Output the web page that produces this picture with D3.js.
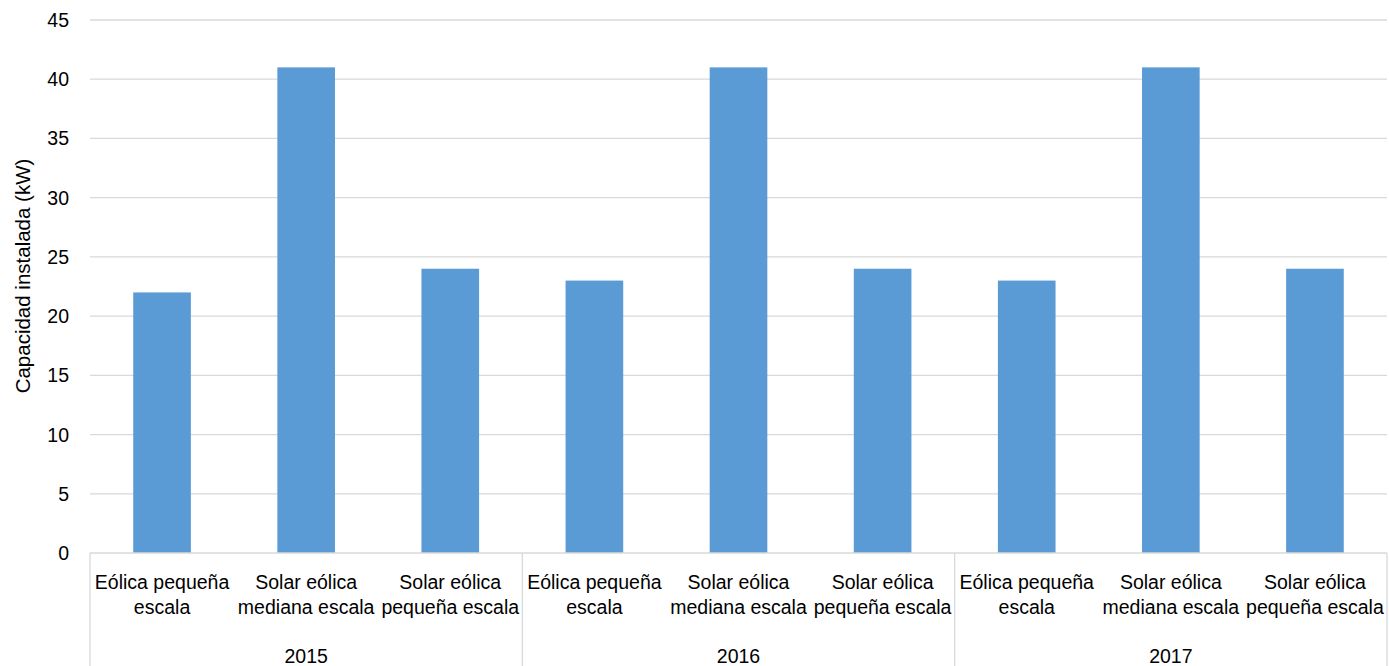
<!DOCTYPE html>
<html>
<head>
<meta charset="utf-8">
<script src="https://cdn.jsdelivr.net/npm/d3@7"></script>
<style>
  body { margin: 0; background: #fff; }
  text { font-family: "Liberation Sans", Arial, sans-serif; fill: #000; }
</style>
</head>
<body>
<div class="chart-box"></div>
<script>
var years = ['2015', '2016', '2017'];
var categories = ['Eólica pequeña|escala', 'Solar eólica|mediana escala', 'Solar eólica|pequeña escala'];
var values = [22, 41, 24, 23, 41, 24, 23, 41, 24];
var y_ticks = [0, 5, 10, 15, 20, 25, 30, 35, 40, 45];

var width = 1389,
    height = 666,
    margin = {top: 20, right: 2, bottom: 113, left: 90};

var svg = d3.select('.chart-box').append('svg')
    .attr('width', width)
    .attr('height', height);

// one slot per (year, category)
var slots = [];
years.forEach(function(yr, i) {
  categories.forEach(function(c, j) {
    slots.push({year: yr, cat: c, key: yr + '-' + j, value: values[i * categories.length + j]});
  });
});

var x = d3.scaleBand()
    .domain(slots.map(function(d) { return d.key; }))
    .range([margin.left, width - margin.right])
    .paddingInner(0.6)
    .paddingOuter(0.3)
    .align(0.5);

var xg = d3.scaleBand()
    .domain(years)
    .range([margin.left, width - margin.right]);

var y = d3.scaleLinear()
    .domain([0, 45])
    .range([height - margin.bottom, margin.top]);

// gridlines
svg.append('g').selectAll('line')
  .data(y_ticks.filter(function(d) { return d > 0; }))
  .enter().append('line')
  .attr('x1', margin.left)
  .attr('x2', width - margin.right)
  .attr('y1', function(d) { return y(d); })
  .attr('y2', function(d) { return y(d); })
  .attr('stroke', '#d9d9d9')
  .attr('stroke-width', 1.3);

// bars
svg.append('g').selectAll('rect')
  .data(slots)
  .enter().append('rect')
  .attr('x', function(d) { return x(d.key); })
  .attr('width', x.bandwidth())
  .attr('y', function(d) { return y(d.value); })
  .attr('height', function(d) { return y(0) - y(d.value); })
  .attr('fill', '#5b9bd5');

// y tick labels
svg.append('g').selectAll('text')
  .data(y_ticks)
  .enter().append('text')
  .attr('x', 69)
  .attr('y', function(d) { return y(d) + 7; })
  .attr('text-anchor', 'end')
  .style('font-size', '19.5px')
  .text(function(d) { return d; });

// y title
svg.append('text')
  .attr('transform', 'translate(30,276) rotate(-90)')
  .attr('text-anchor', 'middle')
  .style('font-size', '20.5px')
  .text('Capacidad instalada (kW)');

// axis baseline and group separators
var base = y(0);
svg.append('line')
  .attr('x1', margin.left).attr('x2', width - margin.right)
  .attr('y1', base).attr('y2', base)
  .attr('stroke', '#d9d9d9').attr('stroke-width', 1.3);

var seps = [margin.left].concat(years.map(function(yr) { return xg(yr) + xg.bandwidth(); }));
svg.append('g').selectAll('line')
  .data(seps)
  .enter().append('line')
  .attr('x1', function(d) { return d; })
  .attr('x2', function(d) { return d; })
  .attr('y1', base)
  .attr('y2', height)
  .attr('stroke', '#d9d9d9')
  .attr('stroke-width', 1.3);

// category labels (two lines)
var catLabels = svg.append('g').selectAll('text')
  .data(slots)
  .enter().append('text')
  .attr('text-anchor', 'middle')
  .style('font-size', '19.5px')
  .attr('x', function(d) { return x(d.key) + x.bandwidth() / 2; })
  .attr('y', base + 36);
catLabels.each(function(d) {
  var parts = d.cat.split('|');
  var t = d3.select(this);
  parts.forEach(function(p, k) {
    t.append('tspan')
      .attr('x', x(d.key) + x.bandwidth() / 2)
      .attr('dy', k === 0 ? 0 : 25)
      .text(p);
  });
});

// year labels
svg.append('g').selectAll('text')
  .data(years)
  .enter().append('text')
  .attr('text-anchor', 'middle')
  .style('font-size', '19.5px')
  .attr('x', function(d) { return xg(d) + xg.bandwidth() / 2; })
  .attr('y', base + 110)
  .text(function(d) { return d; });
</script>
</body>
</html>
